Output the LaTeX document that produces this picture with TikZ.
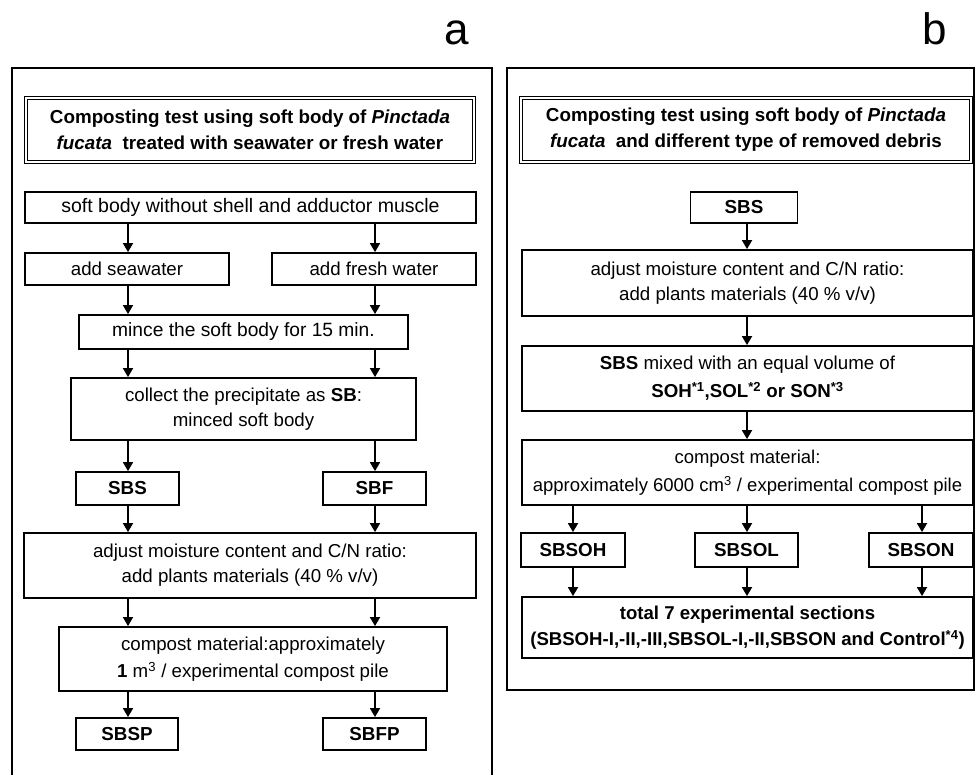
\documentclass[tikz,border=0pt]{standalone}
\usepackage{fontspec}
\setmainfont{Liberation Sans}
\usetikzlibrary{arrows.meta}
\newcommand\figfont{\fontsize{18.7}{25}\selectfont}
\newcommand\figbold{\fontsize{18.8}{26}\selectfont\bfseries}
\begin{document}
\begin{tikzpicture}[x=1pt,y=-1pt,
  box/.style={draw, line width=1.8pt, inner sep=0pt, align=center, font=\figfont},
  bbox/.style={box, font=\figbold},
  titlebox/.style={draw, line width=1.2pt, double, double distance=2pt, inner sep=0pt, align=center, font=\figbold},
  arr/.style={line width=1.7pt, -{Triangle[length=9pt,width=10pt]}},
  frame/.style={line width=1.4pt},
  panel/.style={font=\fontsize{44}{44}\selectfont, anchor=base, inner sep=0pt}]
\useasboundingbox (0,0) rectangle (976,775);

% panel letters
\node[panel] (la) at (457,45) {a};
\node[panel] (lb) at (935,45) {b};

% frames
\draw[frame] (12,775) -- (12,68) -- (492,68) -- (492,775);
\draw[frame] (507,68) rectangle (974,690);

% ---------- panel a ----------
\node[titlebox, minimum width=448pt, minimum height=64pt] (ta) at (250,130)
  {Composting test using soft body of \textit{Pinctada}\\\textit{fucata}~ treated with seawater or fresh water};
\node[box, minimum width=451pt, minimum height=31pt, font=\fontsize{19.5}{25}\selectfont] (soft) at (250.5,207.5) {soft body without shell and adductor muscle};
\node[box, minimum width=204pt, minimum height=32pt] (sea) at (127,269) {add seawater};
\node[box, minimum width=204pt, minimum height=32pt] (fresh) at (374,269) {add fresh water};
\node[box, minimum width=329pt, minimum height=34pt, font=\fontsize{19.2}{25}\selectfont] (mince) at (243.5,332) {mince the soft body for 15 min.};
\node[box, minimum width=345pt, minimum height=62pt] (collect) at (243.5,409) {collect the precipitate as \textbf{SB}:\\minced soft body};
\node[bbox, minimum width=103pt, minimum height=33pt] (sbs) at (127.5,488.5) {SBS};
\node[bbox, minimum width=103pt, minimum height=33pt] (sbf) at (374.5,488.5) {SBF};
\node[box, minimum width=452pt, minimum height=65pt] (adja) at (250,565.5) {adjust moisture content and C/N ratio:\\add plants materials (40 \% v/v)};
\node[box, minimum width=388pt, minimum height=64pt, font=\fontsize{18.7}{27}\selectfont] (compa) at (253,659) {compost material:approximately\\\textbf{1} m\textsuperscript{3} / experimental compost pile};
\node[bbox, minimum width=102pt, minimum height=32pt] (sbsp) at (127,734) {SBSP};
\node[bbox, minimum width=103pt, minimum height=32pt] (sbfp) at (374.5,734) {SBFP};

\coordinate (xL) at (128,0);
\coordinate (xR) at (375,0);
\draw[arr] (soft.south -| xL) -- (sea.north -| xL);
\draw[arr] (soft.south -| xR) -- (fresh.north -| xR);
\draw[arr] (sea.south -| xL) -- (mince.north -| xL);
\draw[arr] (fresh.south -| xR) -- (mince.north -| xR);
\draw[arr] (mince.south -| xL) -- (collect.north -| xL);
\draw[arr] (mince.south -| xR) -- (collect.north -| xR);
\draw[arr] (collect.south -| xL) -- (sbs.north -| xL);
\draw[arr] (collect.south -| xR) -- (sbf.north -| xR);
\draw[arr] (sbs.south -| xL) -- (adja.north -| xL);
\draw[arr] (sbf.south -| xR) -- (adja.north -| xR);
\draw[arr] (adja.south -| xL) -- (compa.north -| xL);
\draw[arr] (adja.south -| xR) -- (compa.north -| xR);
\draw[arr] (compa.south -| xL) -- (sbsp.north -| xL);
\draw[arr] (compa.south -| xR) -- (sbfp.north -| xR);

% ---------- panel b ----------
\node[titlebox, minimum width=450pt, minimum height=64pt] (tb) at (746,130)
  {Composting test using soft body of \textit{Pinctada}\\\textit{fucata}~ and different type of removed debris};
\node[bbox, minimum width=107pt, minimum height=31pt] (sbsb) at (744,207.5) {SBS};
\node[box, minimum width=451pt, minimum height=66pt] (adjb) at (747.5,283) {adjust moisture content and C/N ratio:\\add plants materials (40 \% v/v)};
\node[box, minimum width=451pt, minimum height=65pt, font=\fontsize{18.7}{28}\selectfont] (mixb) at (747.5,378.5) {\textbf{SBS} mixed with an equal volume of\\\textbf{SOH\textsuperscript{*1},SOL\textsuperscript{*2} or SON\textsuperscript{*3}}};
\node[box, minimum width=451pt, minimum height=65pt, font=\fontsize{18.5}{28}\selectfont] (compb) at (747.5,472.5) {compost material:\\approximately 6000 cm\textsuperscript{3} / experimental compost pile};
\node[bbox, minimum width=104pt, minimum height=34pt] (soh) at (573,550) {SBSOH};
\node[bbox, minimum width=103pt, minimum height=34pt] (sol) at (746.5,550) {SBSOL};
\node[bbox, minimum width=104pt, minimum height=34pt] (son) at (921,550) {SBSON};
\node[bbox, minimum width=451pt, minimum height=61pt, font=\fontsize{18.6}{26}\selectfont\bfseries] (total) at (747.5,627.5) {total 7 experimental sections\\(SBSOH-I,-II,-III,SBSOL-I,-II,SBSON and Control\textsuperscript{*4})};

\coordinate (b1) at (573,0);
\coordinate (b2) at (747,0);
\coordinate (b3) at (922,0);
\draw[arr] (sbsb.south -| b2) -- (adjb.north -| b2);
\draw[arr] (adjb.south -| b2) -- (mixb.north -| b2);
\draw[arr] (mixb.south -| b2) -- (compb.north -| b2);
\draw[arr] (compb.south -| b1) -- (soh.north -| b1);
\draw[arr] (compb.south -| b2) -- (sol.north -| b2);
\draw[arr] (compb.south -| b3) -- (son.north -| b3);
\draw[arr] (soh.south -| b1) -- (total.north -| b1);
\draw[arr] (sol.south -| b2) -- (total.north -| b2);
\draw[arr] (son.south -| b3) -- (total.north -| b3);
\end{tikzpicture}
\end{document}
